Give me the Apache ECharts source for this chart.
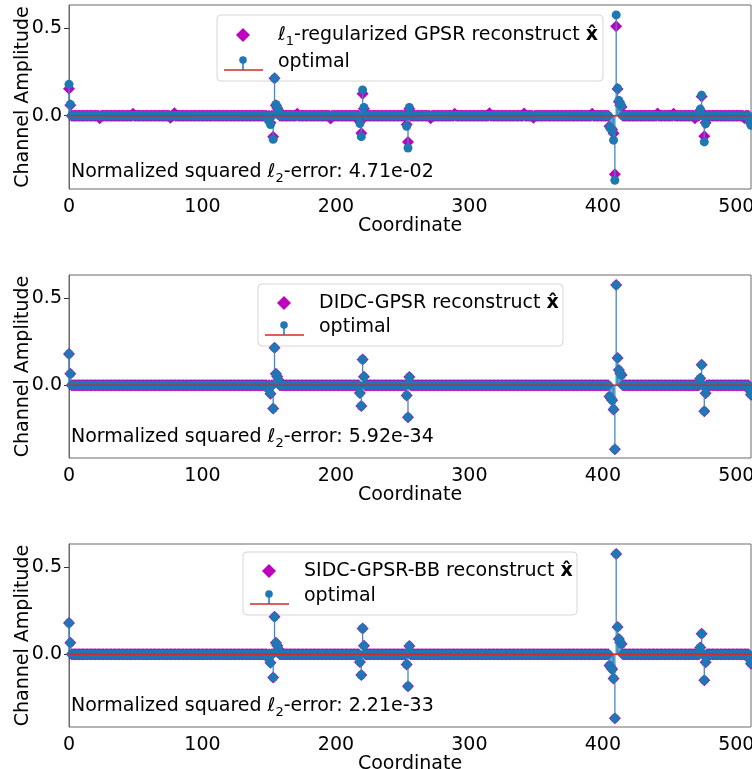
<!DOCTYPE html>
<html>
<head>
<meta charset="utf-8">
<script src="https://cdn.jsdelivr.net/npm/echarts@6/dist/echarts.min.js"></script>
<style>
  html, body { margin: 0; padding: 0; background: #fff; }
  #chart { width: 752px; height: 769px; }
</style>
</head>
<body>
<div id="chart"></div>
<script>
// signal length (coordinates 0..511)
var N = 512;

// optimal channel: nonzero coordinates and values
var optCoords = [0, 1, 149, 151, 153, 154, 155, 156, 157, 218, 219, 220, 221, 253, 254, 255,
    405, 406, 407, 408, 409, 410, 411, 412, 413, 414, 473, 474, 476, 477, 510, 511];
var optVals = [0.18, 0.065, -0.02, -0.05, -0.135, 0.215, 0.065, 0.05, 0.03, -0.045, -0.12, 0.148, 0.048,
    -0.06, -0.185, 0.047, -0.065, -0.075, -0.087, -0.14, -0.37, 0.578, 0.157, 0.088, 0.068, 0.058,
    0.038, 0.117, -0.15, -0.046, -0.03, -0.055];

// l1-regularized GPSR reconstruction (noisy, shrunk)
var gpsrCoords = [0, 1, 23, 48, 76, 79, 149, 151, 153, 154, 155, 156, 157, 171, 196, 218, 219, 220, 221,
    253, 254, 255, 271, 289, 315, 341, 348, 392, 405, 406, 407, 408, 409, 410, 411, 412, 413, 414,
    441, 453, 469, 473, 474, 476, 477, 506, 510, 511];
var gpsrVals = [0.155, 0.06, -0.014, 0.012, -0.012, 0.014, -0.012, -0.04, -0.12, 0.215, 0.06, 0.045, 0.03,
    0.012, -0.016, -0.035, -0.1, 0.126, 0.04, -0.05, -0.15, 0.04, -0.014, 0.012, 0.015, 0.013, -0.012,
    0.012, -0.06, -0.07, -0.08, -0.1, -0.335, 0.513, 0.153, 0.08, 0.06, 0.05, 0.013, 0.012, -0.014,
    0.03, 0.11, -0.117, -0.04, -0.013, -0.025, -0.045];

// DIDC-GPSR and SIDC-GPSR-BB recover the optimal channel exactly
var didcCoords = optCoords, didcVals = optVals;
var sidcCoords = optCoords, sidcVals = optVals;

var panelLabels = ['-regularized GPSR reconstruct ', 'DIDC-GPSR reconstruct ', 'SIDC-GPSR-BB reconstruct '];
var panelErrors = ['4.71e-02', '5.92e-34', '2.21e-33'];
var xTicks = [0, 100, 200, 300, 400, 500];
var yTicks = [0, 0.5];

function dense(idx, vals) {
    var a = [];
    for (var i = 0; i < N; i++) a.push([i, 0]);
    for (var k = 0; k < idx.length; k++) a[idx[k]][1] = vals[k];
    return a;
}

var recon = [dense(gpsrCoords, gpsrVals), dense(didcCoords, didcVals), dense(sidcCoords, sidcVals)];
var optimal = dense(optCoords, optVals);

var FONT = 'DejaVu Sans';
var FS = 19;
var gridTops = [5, 275, 544];
var gridH = [184, 183, 183];
var legendPos = [
    {x: 217, y: 15, w: 386, h: 66, r1: 20, r2: 47},
    {x: 258, y: 284, w: 305, h: 62, r1: 19, r2: 43},
    {x: 243, y: 552, w: 334, h: 63, r1: 19, r2: 44}
];
var errorY = [172, 437, 706];

// rich styles: normal text, subscript, bold
var richText = {
    t: {fontFamily: FONT, fontSize: FS, fill: '#000', lineHeight: 26},
    s: {fontFamily: FONT, fontSize: 13, fill: '#000', verticalAlign: 'bottom', lineHeight: 15},
    b: {fontFamily: FONT, fontSize: FS, fontWeight: 'bold', fill: '#000', lineHeight: 26}
};

var grids = [], xAxes = [], yAxes = [], series = [], graphics = [];

for (var p = 0; p < 3; p++) {
    grids.push({left: 69, width: 682, top: gridTops[p], height: gridH[p], outerBoundsMode: 'none',
        containLabel: false,
        show: true, borderColor: '#6b6b6b', borderWidth: 1, backgroundColor: 'transparent'});
    xAxes.push({
        type: 'value', gridIndex: p, min: 0, max: 511,
        name: 'Coordinate', nameLocation: 'middle', nameGap: 28, nameMoveOverlap: false,
        nameTextStyle: {fontFamily: FONT, fontSize: FS, color: '#000'},
        axisLine: {lineStyle: {color: '#6b6b6b'}},
        axisTick: {show: true, length: 5, customValues: xTicks, lineStyle: {color: '#333'}},
        axisLabel: {customValues: xTicks, margin: 9, fontFamily: FONT, fontSize: FS, color: '#000'},
        splitLine: {show: false}
    });
    yAxes.push({
        type: 'value', gridIndex: p, min: -0.42, max: 0.635,
        name: 'Channel Amplitude', nameLocation: 'middle', nameGap: 36, nameRotate: 90,
        nameMoveOverlap: false,
        nameTextStyle: {fontFamily: FONT, fontSize: FS, color: '#000'},
        axisLine: {show: true, lineStyle: {color: '#6b6b6b'}},
        axisTick: {show: true, length: 5, customValues: yTicks, lineStyle: {color: '#333'}},
        axisLabel: {customValues: yTicks, margin: 7, fontFamily: FONT, fontSize: FS, color: '#000',
            formatter: function (v) { return v.toFixed(1); }},
        splitLine: {show: false}
    });

    // reconstruction diamonds
    series.push({
        type: 'scatter', xAxisIndex: p, yAxisIndex: p, data: recon[p],
        symbol: 'diamond', symbolSize: 12, itemStyle: {color: '#bf00bf', opacity: 1},
        z: 2, silent: true
    });
    // stems of optimal
    series.push({
        type: 'custom', xAxisIndex: p, yAxisIndex: p, data: optimal, z: 3, silent: true,
        encode: {x: 0, y: 1},
        renderItem: function (params, api) {
            var x = api.value(0), y = api.value(1);
            var p0 = api.coord([x, 0]), p1 = api.coord([x, y]);
            return {type: 'line', shape: {x1: p0[0], y1: p0[1], x2: p1[0], y2: p1[1]},
                style: {stroke: '#3f8ac4', lineWidth: 1.3}};
        }
    });
    // markers of optimal
    series.push({
        type: 'scatter', xAxisIndex: p, yAxisIndex: p, data: optimal,
        symbol: 'circle', symbolSize: 9, itemStyle: {color: '#1f77b4', opacity: 1},
        z: 4, silent: true
    });
    // baseline
    series.push({
        type: 'line', xAxisIndex: p, yAxisIndex: p, data: [[0, 0], [N - 1, 0]],
        symbol: 'none', lineStyle: {color: '#d62728', width: 1.5}, z: 5, silent: true
    });

    // legend box
    var L = legendPos[p];
    var label1 = p === 0
        ? '{t|\u2113}{s|1}{t|' + panelLabels[p] + '}{b|x\u0302}'
        : '{t|' + panelLabels[p] + '}{b|x\u0302}';
    graphics.push({
        type: 'group', x: L.x, y: L.y, z: 100,
        children: [
            {type: 'rect', shape: {x: 0, y: 0, width: L.w, height: L.h, r: 4},
                style: {fill: 'rgba(255,255,255,0.8)', stroke: '#d6d6d6', lineWidth: 1}},
            {type: 'polygon', shape: {points: [[26, L.r1 - 7], [33, L.r1], [26, L.r1 + 7], [19, L.r1]]},
                style: {fill: '#bf00bf'}},
            {type: 'line', shape: {x1: 7, y1: L.r2 + 8, x2: 46, y2: L.r2 + 8},
                style: {stroke: '#d62728', lineWidth: 1.5}},
            {type: 'line', shape: {x1: 26, y1: L.r2 - 2, x2: 26, y2: L.r2 + 8},
                style: {stroke: '#1f77b4', lineWidth: 1.5}},
            {type: 'circle', shape: {cx: 26, cy: L.r2 - 2, r: 3.8}, style: {fill: '#1f77b4'}},
            {type: 'text', x: 61, y: L.r1, style: {
                text: label1, verticalAlign: 'middle', rich: richText}},
            {type: 'text', x: 61, y: L.r2, style: {
                text: 'optimal', fontFamily: FONT, fontSize: FS, fill: '#000', verticalAlign: 'middle'}}
        ]
    });

    // error annotation
    graphics.push({
        type: 'text', x: 71, y: errorY[p], z: 90,
        style: {text: '{t|Normalized squared \u2113}{s|2}{t|-error: ' + panelErrors[p] + '}',
            verticalAlign: 'middle', rich: richText}
    });
}

var chart = echarts.init(document.getElementById('chart'), null, {renderer: 'canvas'});
chart.setOption({
    animation: false,
    backgroundColor: '#fff',
    grid: grids,
    xAxis: xAxes,
    yAxis: yAxes,
    series: series,
    graphic: graphics
});
</script>
</body>
</html>
